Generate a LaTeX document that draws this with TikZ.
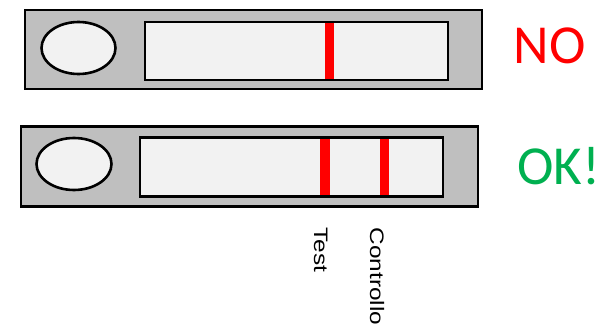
\documentclass[tikz,border=0pt]{standalone}
\usepackage{fontspec}
\setmainfont{Liberation Sans}
\newfontfamily\calibri{Carlito}
\definecolor{stripgray}{HTML}{BFBFBF}
\definecolor{padwhite}{HTML}{F2F2F2}
\definecolor{bandred}{HTML}{FF0000}
\definecolor{okgreen}{HTML}{00B050}
\begin{document}
\begin{tikzpicture}[x=1pt, y=-1pt,
  strip/.style={draw=black, line width=2.6pt, fill=stripgray},
  window/.style={draw=black, line width=2.6pt, fill=padwhite},
  band/.style={draw=bandred, line width=9.5pt},
  verdict/.style={anchor=base, inner sep=0pt, font=\calibri\fontsize{55}{60}\selectfont},
  striplabel/.style={rotate=-90, anchor=base west, inner sep=0pt, font=\fontsize{19.5}{22}\selectfont}]

  \useasboundingbox (0,0) rectangle (600,326);

  % -------------------------
  % Striscia non valida
  % -------------------------
  \draw[strip] (25,10) rectangle (482,89);
  \draw[window] (145,22) rectangle (448,80);
  \draw[window] (78.5,48) ellipse [x radius=37, y radius=26];

  \draw[band] (329.3,23.3) -- (329.3,78.7);

  \node[verdict, text=bandred] (no) at (549.5,63.3) {NO};

  % -------------------------
  % Striscia valida
  % -------------------------
  \draw[strip] (21,126.5) rectangle (478,206.5);
  \draw[window] (140,137.5) rectangle (443,196.5);
  \draw[window] (74,164) ellipse [x radius=37.5, y radius=26];

  \draw[band] (325,138.8) -- (325,195.2);
  \draw[band] (384.3,138.8) -- (384.3,195.2);

  \node[verdict, text=okgreen] (ok) at (559,185) {OK!};

  % Linee
  \node[striplabel] (test) at (314,227.5) {\scalebox{1.25}[1]{Test}};
  \node[striplabel] (controllo) at (370,227.5) {\scalebox{1.25}[1]{Controllo}};

\end{tikzpicture}
\end{document}
